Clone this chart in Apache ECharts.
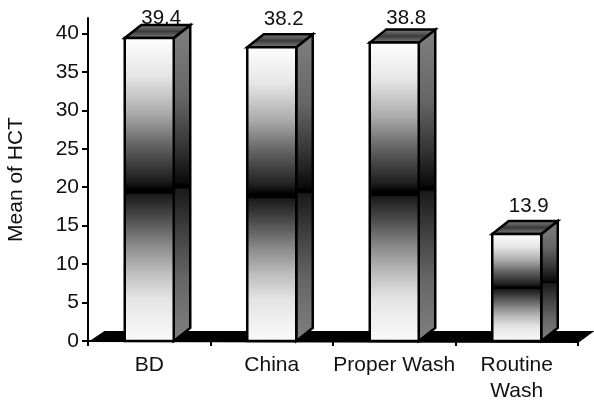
<!DOCTYPE html>
<html>
<head>
<meta charset="utf-8">
<style>
  html, body { margin: 0; padding: 0; background: #fff; }
  #chart { width: 594px; height: 400px; }
</style>
<script src="https://cdn.jsdelivr.net/npm/echarts@6/dist/echarts.min.js"></script>
</head>
<body>
<div id="chart"></div>
<script>
const categories = ["BD", "China", "Proper Wash", "Routine\nWash"];
const hctMeans = [39.4, 38.2, 38.8, 13.9];
const yTicks = [0, 5, 10, 15, 20, 25, 30, 35, 40];

const FONT = "Liberation Sans";
const TEXT_COLOR = "#111";
const DEPTH_X = 16.5;
const DEPTH_Y = 13;
const BAR_WIDTH = 49;

// front: white -> black at the middle, then dark grey -> white
const frontFill = {
  type: "linear", x: 0, y: 0, x2: 0, y2: 1,
  colorStops: [
    { offset: 0, color: "#ffffff" },
    { offset: 0.127, color: "#e6e6e6" },
    { offset: 0.25, color: "#ababab" },
    { offset: 0.36, color: "#606060" },
    { offset: 0.47, color: "#1f1f1f" },
    { offset: 0.5, color: "#000000" },
    { offset: 0.512, color: "#000000" },
    { offset: 0.516, color: "#1a1a1a" },
    { offset: 0.59, color: "#4a4a4a" },
    { offset: 0.68, color: "#888888" },
    { offset: 0.77, color: "#bdbdbd" },
    { offset: 0.856, color: "#e4e4e4" },
    { offset: 1, color: "#fbfbfb" },
  ],
};
const sideFill = {
  type: "linear", x: 0, y: 0, x2: 0, y2: 1,
  colorStops: [
    { offset: 0, color: "#808080" },
    { offset: 0.23, color: "#666666" },
    { offset: 0.39, color: "#333333" },
    { offset: 0.5, color: "#0a0a0a" },
    { offset: 0.505, color: "#000000" },
    { offset: 0.515, color: "#000000" },
    { offset: 0.52, color: "#1a1a1a" },
    { offset: 0.65, color: "#404040" },
    { offset: 0.8, color: "#666666" },
    { offset: 1, color: "#808080" },
  ],
};
const topFill = {
  type: "linear", x: 0, y: 0, x2: 0, y2: 1,
  colorStops: [
    { offset: 0, color: "#8a8a8a" },
    { offset: 0.5, color: "#3a3a3a" },
    { offset: 1, color: "#8a8a8a" },
  ],
};

const renderFloor = (params, api) => {
  const cs = params.coordSys;
  const y0 = api.coord([0, 0])[1];
  return {
    type: "polygon",
    silent: true,
    shape: {
      points: [
        [cs.x, y0 + 1],
        [cs.x + DEPTH_X, y0 - DEPTH_Y + 3],
        [cs.x + cs.width + DEPTH_X, y0 - DEPTH_Y + 3],
        [cs.x + cs.width, y0 + 2],
      ],
    },
    style: { fill: "#000" },
  };
};

const renderBar = (params, api) => {
  const [cx, top] = api.coord([api.value(0), api.value(1)]);
  const bottom = api.coord([api.value(0), 0])[1];
  const l = cx - BAR_WIDTH / 2;
  const r = cx + BAR_WIDTH / 2;
  const line = { stroke: "#000", lineWidth: 2.5, lineJoin: "miter" };
  return {
    type: "group",
    children: [
      {
        type: "polygon",
        shape: { points: [[r, top], [r + DEPTH_X, top - DEPTH_Y], [r + DEPTH_X, bottom - DEPTH_Y], [r, bottom]] },
        style: { fill: sideFill, ...line },
      },
      {
        type: "polygon",
        shape: { points: [[l, top], [l + DEPTH_X, top - DEPTH_Y], [r + DEPTH_X, top - DEPTH_Y], [r, top]] },
        style: { fill: topFill, ...line },
      },
      {
        type: "rect",
        shape: { x: l, y: top, width: BAR_WIDTH, height: bottom - top },
        style: { fill: frontFill, ...line },
      },
      {
        type: "text",
        style: {
          x: cx + 12,
          y: Math.max(18, top - 28), // the tall bars hit the top of the plot
          text: String(api.value(1)),
          fill: TEXT_COLOR,
          font: `20.5px "${FONT}"`,
          align: "center",
          verticalAlign: "middle",
        },
      },
    ],
  };
};

const chart = echarts.init(document.getElementById("chart"));
chart.setOption({
  animation: false,
  textStyle: { fontFamily: FONT },
  grid: { left: 88, right: 16, top: 18, bottom: 59, outerBoundsMode: "none" },
  xAxis: {
    type: "category",
    data: categories,
    axisLine: { lineStyle: { color: "#000", width: 2 } },
    axisTick: { show: true, alignWithLabel: false, length: 5, lineStyle: { color: "#000", width: 2 } },
    axisLabel: { color: TEXT_COLOR, fontSize: 21, margin: 11, lineHeight: 26, interval: 0 },
    splitLine: { show: false },
  },
  yAxis: {
    type: "value",
    min: 0,
    max: 42,
    name: "Mean of HCT",
    nameLocation: "middle",
    nameGap: 61,
    nameTextStyle: { color: TEXT_COLOR, fontSize: 21 },
    axisLine: { show: true, lineStyle: { color: "#000", width: 2 } },
    axisTick: { show: true, length: 6, customValues: yTicks, lineStyle: { color: "#000", width: 2 } },
    axisLabel: { color: TEXT_COLOR, fontSize: 21, margin: 9, customValues: yTicks },
    splitLine: { show: false },
  },
  series: [
    {
      type: "custom",
      name: "floor",
      renderItem: renderFloor,
      data: [[0, 0]],
      silent: true,
      z: 1,
    },
    {
      type: "custom",
      name: "Mean of HCT",
      renderItem: renderBar,
      encode: { x: 0, y: 1 },
      data: hctMeans.map((v, i) => [i, v]),
      clip: false,
      z: 2,
    },
  ],
});
</script>
</body>
</html>
